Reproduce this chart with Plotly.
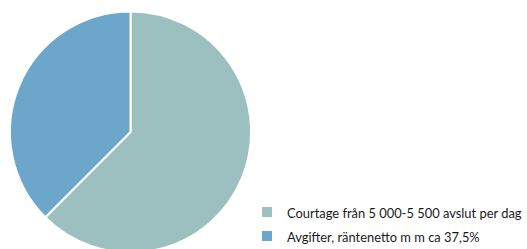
import plotly.graph_objects as go

labels = ["Courtage från 5 000-5 500 avslut per dag", "Avgifter, räntenetto m m ca 37,5%"]
values = [62.5, 37.5]
colors = ["#9CBFBF", "#6CA7CB"]

W, H = 527, 254
top = 11

legend_labels = ['<span style="font-size:12.9px">%s</span>' % s for s in labels]

fig = go.Figure(go.Pie(
    labels=legend_labels,
    values=values,
    sort=False,
    direction="clockwise",
    rotation=0,
    textinfo="none",
    hoverinfo="label+percent",
    marker=dict(colors=colors, line=dict(color="white", width=2)),
    domain=dict(x=[10 / W, 252 / W], y=[0, 1]),
))

fig.update_layout(
    width=W, height=H,
    margin=dict(l=0, r=0, t=top, b=0),
    paper_bgcolor="white",
    plot_bgcolor="white",
    showlegend=True,
    legend=dict(
        x=248 / W, xanchor="left",
        y=1 - (196 - top) / (H - top), yanchor="top",
        font=dict(family="Lato", size=16.2, color="#1a1a1a"),
        bgcolor="rgba(0,0,0,0)",
    ),
)

fig.write_html("out.html", config={"displayModeBar": False},
               post_script="document.body.style.margin='0';document.body.style.overflow='hidden';")
